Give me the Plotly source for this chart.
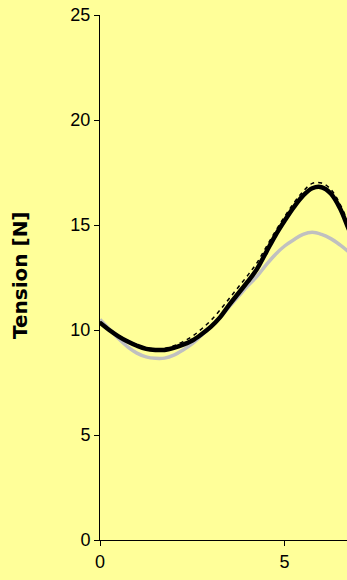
import plotly.graph_objects as go

x_vals = [0, 0.25, 0.5, 0.75, 1.0, 1.25, 1.5, 1.75, 2.0, 2.25, 2.5, 2.75, 3.0, 3.25, 3.5,
          3.75, 4.0, 4.25, 4.5, 4.75, 5.0, 5.25, 5.5, 5.75, 6.0, 6.25, 6.5, 6.75, 7.0]

measured = [10.35, 10.0, 9.7, 9.45, 9.25, 9.1, 9.05, 9.05, 9.15, 9.3, 9.5, 9.8, 10.15, 10.6, 11.2,
            11.75, 12.3, 12.9, 13.7, 14.5, 15.2, 15.85, 16.4, 16.75, 16.8, 16.5, 15.8, 14.75, 13.8]

model_gray = [10.5, 10.05, 9.6, 9.2, 8.9, 8.72, 8.65, 8.66, 8.8, 9.05, 9.35, 9.75, 10.15, 10.6, 11.1,
              11.6, 12.1, 12.55, 13.1, 13.6, 14.0, 14.3, 14.55, 14.65, 14.55, 14.35, 14.05, 13.7, 13.3]

model_dashed = [10.4, 10.05, 9.75, 9.5, 9.3, 9.15, 9.1, 9.12, 9.25, 9.45, 9.7, 10.05, 10.45, 10.95, 11.5,
                12.05, 12.6, 13.2, 13.95, 14.7, 15.4, 16.05, 16.6, 16.98, 17.0, 16.7, 16.0, 15.0, 14.0]

y_ticks = [0, 5, 10, 15, 20, 25]
x_ticks = [0, 5]
y_title = "Tension [N]"

bg = "#FFFF99"

fig = go.Figure()
fig.add_trace(go.Scatter(x=x_vals, y=model_gray, mode="lines",
                         line=dict(color="#C0C0C0", width=3.5, shape="spline"), showlegend=False))
fig.add_trace(go.Scatter(x=x_vals, y=measured, mode="lines",
                         line=dict(color="black", width=4.5, shape="spline"), showlegend=False))
fig.add_trace(go.Scatter(x=x_vals, y=model_dashed, mode="lines",
                         line=dict(color="black", width=1.5, shape="spline", dash="4px,4px"), showlegend=False))

fig.update_layout(
    width=347, height=580,
    margin=dict(l=100, r=0, t=15, b=40),
    paper_bgcolor=bg, plot_bgcolor=bg,
    font=dict(family="Liberation Sans, Arial", size=18, color="black"),
    showlegend=False,
)
fig.update_xaxes(range=[0, 6.69], tickvals=x_ticks, ticks="outside", ticklen=5, tickcolor="black",
                 showline=True, linecolor="black", linewidth=1, showgrid=False, zeroline=False,
                 tickfont=dict(size=18), automargin=False)
fig.update_yaxes(range=[0, 25], tickvals=y_ticks, ticks="outside", ticklen=5, tickcolor="black",
                 showline=True, linecolor="black", linewidth=1, showgrid=False, zeroline=False,
                 tickfont=dict(size=18), automargin=False)
fig.add_annotation(text="<b>" + y_title + "</b>", textangle=-90, xref="paper", yref="paper",
                   x=(20 - 100) / 247, y=(540 - 275) / 525, xanchor="center", yanchor="middle",
                   showarrow=False, font=dict(family="DejaVu Sans", size=20, color="black"))

fig.write_html("out.html", config={"displayModeBar": False},
               post_script="document.body.style.margin='0px';document.body.style.background='#FFFF99';")
